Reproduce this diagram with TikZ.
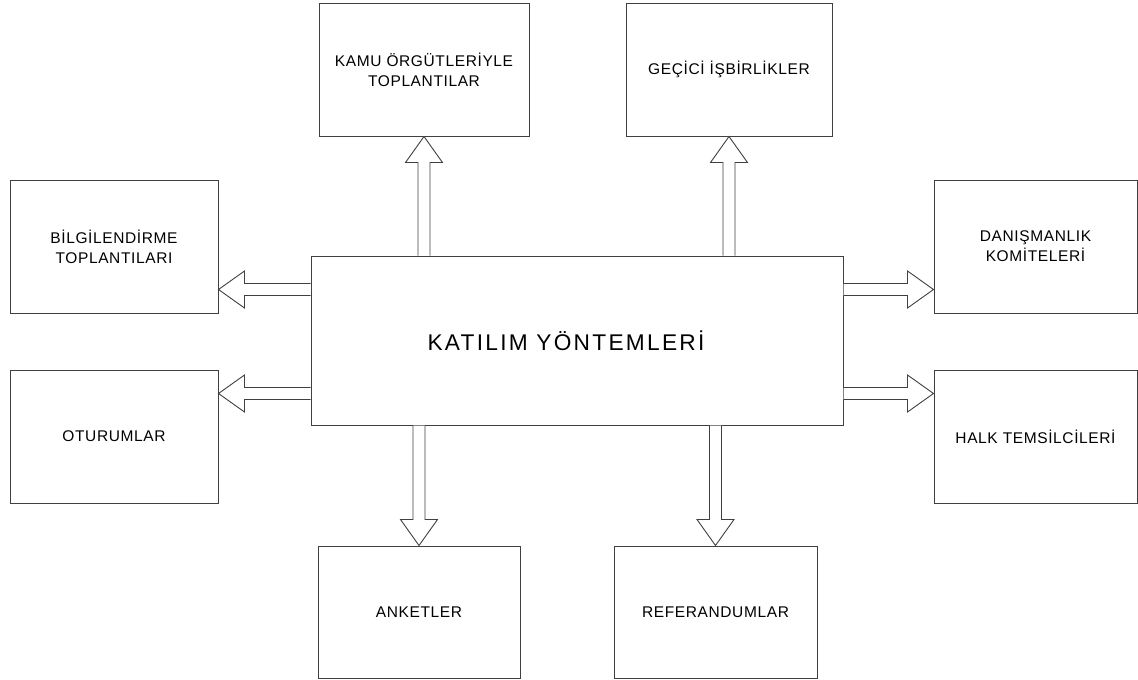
\documentclass[tikz,border=0pt]{standalone}
\usepackage{fontspec}
\setmainfont{Liberation Sans}
\newfontfamily\boxfont[LetterSpace=4]{Liberation Sans}
\newfontfamily\titlefont[LetterSpace=10]{Liberation Sans}
\usepackage{tikz}
\usetikzlibrary{calc}
\tikzset{
  methodbox/.style={draw=black!75,line width=1pt,fill=white,
    align=center,inner sep=4pt,minimum height=133pt,
    font=\boxfont\fontsize{15.5}{20}\selectfont},
  mainbox/.style={draw=black!75,line width=1pt,fill=white,
    minimum width=532pt,minimum height=169pt,
    font=\titlefont\fontsize{22.7}{26}\selectfont},
  hollow/.style={draw=black!75,line width=.9pt,fill=white,line join=miter}
}
% hollow block arrow from #1 to #2
\newcommand{\blockarrow}[2]{%
  \path[hollow] let \p1=(#1), \p2=(#2), \n1={atan2(\y2-\y1,\x2-\x1)},
    \n2={veclen(\x2-\x1,\y2-\y1)} in
    [shift={(\p1)},rotate=\n1]
    (0,-6) -- (\n2-26,-6) -- (\n2-26,-18.5) -- (\n2,0)
    -- (\n2-26,18.5) -- (\n2-26,6) -- (0,6);}

\begin{document}
\begin{tikzpicture}[x=1pt,y=-1pt]
\useasboundingbox (0,0) rectangle (1138,680);

\node[mainbox] (main) at (577,340.5) {KATILIM YÖNTEMLERİ\kern22pt};

\node[methodbox,minimum width=210pt] (kamu) at (424,69.5)
  {KAMU ÖRGÜTLERİYLE\\TOPLANTILAR};
\node[methodbox,minimum width=206pt] (gecici) at (729,69.5)
  {GEÇİCİ İŞBİRLİKLER};
\node[methodbox,minimum width=208pt] (bilgi) at (114,246.5)
  {BİLGİLENDİRME\\TOPLANTILARI};
\node[methodbox,minimum width=208pt] (otur) at (114,436.5)
  {OTURUMLAR};
\node[methodbox,minimum width=203pt] (danis) at (1035.5,246.5)
  {DANIŞMANLIK\\KOMİTELERİ};
\node[methodbox,minimum width=203pt] (halk) at (1035.5,436.5)
  {HALK TEMSİLCİLERİ};
\node[methodbox,minimum width=202pt,minimum height=132pt] (anket) at (419,612)
  {ANKETLER};
\node[methodbox,minimum width=203pt,minimum height=132pt] (refer) at (715.5,612)
  {REFERANDUMLAR};

% arrow roots on the main box
\coordinate (upL) at ($(main.north west)+(0,34)$);
\coordinate (loL) at ($(main.south west)+(0,-32)$);
\coordinate (upR) at ($(main.north east)+(0,34)$);
\coordinate (loR) at ($(main.south east)+(0,-32)$);

\blockarrow{main.north -| kamu.south}{kamu.south}
\blockarrow{main.north -| gecici.south}{gecici.south}
\blockarrow{upL}{upL -| bilgi.east}
\blockarrow{loL}{loL -| otur.east}
\blockarrow{upR}{upR -| danis.west}
\blockarrow{loR}{loR -| halk.west}
\blockarrow{main.south -| anket.north}{anket.north}
\blockarrow{main.south -| refer.north}{refer.north}
\end{tikzpicture}
\end{document}
